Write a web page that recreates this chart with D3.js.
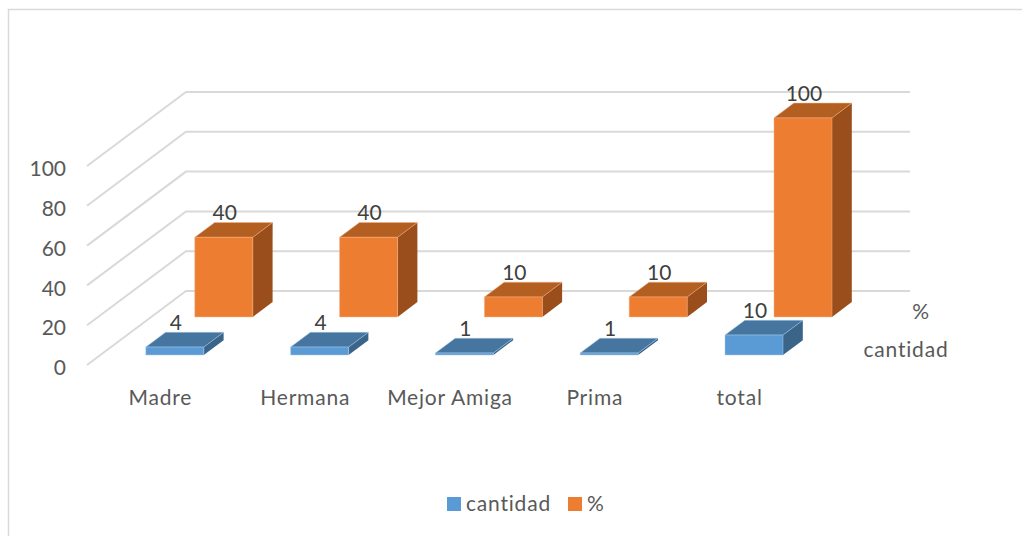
<!DOCTYPE html>
<html><head><meta charset="utf-8">
<script src="https://cdnjs.cloudflare.com/ajax/libs/d3/7.8.5/d3.min.js"></script>
<style>html,body{margin:0;padding:0;background:#fff}svg{display:block}text{font-family:Lato,"Open Sans",sans-serif}</style>
</head><body><svg id="c" width="1022" height="536"></svg>
<script>
const categories = ["Madre","Hermana","Mejor Amiga","Prima","total"];
const cantidad = [4,4,1,1,10];
const porcentaje = [40,40,10,10,100];
const seriesNames = ["cantidad","%"];
const tickValues = [0,20,40,60,80,100];

const svg = d3.select("#c");
// oblique projection: x along categories, d into depth (0 front .. 1 back), v value
const fx = 87, fy = 365, dX = 99, dY = -74, plotW = 724, plotH = 199;
const xScale = d3.scaleBand().domain(categories).range([0, plotW]);
const vScale = d3.scaleLinear().domain([0,100]).range([0, plotH]);
const zScale = d3.scaleBand().domain(seriesNames).range([0,1]);
const P = (x,d,v) => [fx + x + d*dX, fy + d*dY - vScale(v)];
const path = pts => "M" + pts.map(p => p.map(n=>n.toFixed(1)).join(",")).join("L") + "Z";

svg.append("path").attr("d","M8.5,537V9.5H1023").attr("fill","none").attr("stroke","#d9d9d9").attr("stroke-width",1.5);

// gridlines
svg.append("g").selectAll("path").data(tickValues).join("path")
  .attr("fill","none").attr("stroke","#d9d9d9").attr("stroke-width",2)
  .attr("d", v => { const a=P(0,0,v),b=P(0,1,v),c=P(plotW,1,v); return `M${a}L${b}L${c}`; });

// value axis
const axisScale = d3.scaleLinear().domain([0,100]).range([368,169]);
const ax = svg.append("g").attr("transform","translate(73,0)")
  .call(d3.axisLeft(axisScale).tickValues(tickValues).tickSize(0).tickPadding(7));
ax.select(".domain").remove();
ax.selectAll("text").attr("fill","#595959").style("font-size","21px").style("font-family","Lato,'Open Sans',sans-serif");

const barW = 58, zPad = 0.135;
const shades = {
  cantidad:{front:"#5b9bd5",top:"#4675a0",side:"#3a6589",edge:"#a9cbea"},
  "%":{front:"#ed7d31",top:"#b45f22",side:"#9a4e1c",edge:"#f4b183"}
};
const rows = [];
seriesNames.forEach((s,si)=>categories.forEach((c,i)=>rows.push({s,c,v:(si?porcentaje:cantidad)[i]})));
const bars = svg.append("g").selectAll("g").data(rows).join("g");
const geo = d => {
  const x0 = xScale(d.c) + (xScale.bandwidth()-barW)/2 + (d.s==="%"?0:2);
  const z0 = zScale(d.s) + zPad + (d.s==="%"?0.015:0), z1 = z0 + 0.2;
  return {x0,x1:x0+barW,z0,z1};
};
bars.append("path").attr("fill",d=>shades[d.s].side).attr("d",d=>{const g=geo(d);
  return path([P(g.x1,g.z0,0),P(g.x1,g.z1,0),P(g.x1,g.z1,d.v),P(g.x1,g.z0,d.v)]);});
bars.append("path").attr("fill",d=>shades[d.s].top).attr("stroke",d=>shades[d.s].edge).attr("stroke-width",0.5).attr("d",d=>{const g=geo(d);
  return path([P(g.x0,g.z0,d.v),P(g.x1,g.z0,d.v),P(g.x1,g.z1,d.v),P(g.x0,g.z1,d.v)]);});
bars.append("path").attr("fill",d=>shades[d.s].front).attr("stroke",d=>shades[d.s].edge).attr("stroke-width",0.5).attr("d",d=>{const g=geo(d);
  return path([P(g.x0,g.z0,0),P(g.x1,g.z0,0),P(g.x1,g.z0,d.v),P(g.x0,g.z0,d.v)]);});
bars.append("text").attr("text-anchor","middle").attr("dominant-baseline","central")
  .attr("fill","#404040").style("font-size","21px").text(d=>d.v)
  .attr("x",d=>{const g=geo(d);return P((g.x0+g.x1)/2,g.z0,d.v)[0]+1;})
  .attr("y",d=>{const g=geo(d);return P(g.x0,g.z1,d.v)[1]-11;});

// category labels
const catOffset = 1;
const spacing = "0.8px";
svg.append("g").selectAll("text").data(categories).join("text")
  .attr("text-anchor","middle").attr("dominant-baseline","central").attr("fill","#595959")
  .style("font-size","21px").style("letter-spacing",spacing)
  .attr("x",c=>fx+xScale(c)+xScale.bandwidth()/2+catOffset).attr("y",396).text(c=>c);

// series labels on depth axis
const depthX = {"cantidad":906,"%":921}, depthY = {"cantidad":348,"%":310};
svg.append("g").selectAll("text").data(seriesNames).join("text")
  .attr("text-anchor","middle").attr("dominant-baseline","central").attr("fill","#595959")
  .style("font-size","21px").style("letter-spacing",spacing)
  .attr("x",s=>depthX[s]).attr("y",s=>depthY[s]).text(s=>s);

// legend
const legX = {"cantidad":447,"%":568};
const leg = svg.append("g").selectAll("g").data(seriesNames).join("g");
leg.append("rect").attr("x",s=>legX[s]).attr("y",497).attr("width",14).attr("height",14).attr("fill",s=>shades[s].front);
leg.append("text").attr("x",s=>legX[s]+19).attr("y",502).attr("dominant-baseline","central")
  .attr("fill","#595959").style("font-size","21px").style("letter-spacing",spacing).text(s=>s);
</script></body></html>
